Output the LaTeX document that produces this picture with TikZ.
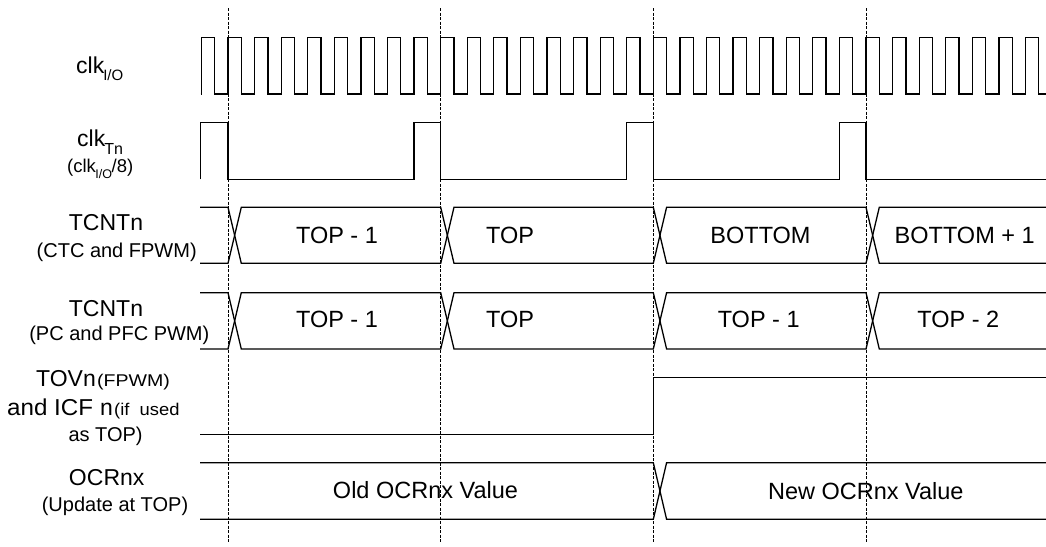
\documentclass[tikz,border=0pt]{standalone}
\usepackage{fontspec}
\setmainfont{Liberation Sans}
\newcommand\mainsz{\fontsize{23}{24}\selectfont}
\newcommand\parsz{\fontsize{20}{21}\selectfont}
\newcommand\bussz{\fontsize{23.5}{24}\selectfont}
\begin{document}
\begin{tikzpicture}[x=1pt,y=-1pt,
  sig/.style={line width=1.3pt,line join=miter},
  guide/.style={line width=1pt,dash pattern=on 3pt off 1.5pt},
  lbl/.style={inner sep=0pt,anchor=base},
  lblw/.style={inner sep=0pt,anchor=base west}]
\useasboundingbox (0,0) rectangle (1046,546);
\def\XA{228}\def\XB{440.7}\def\XC{653.3}\def\XD{866}
\def\P{26.583}\def\H{13.29}
% dashed guides
\foreach \x/\n in {\XA/ga,\XB/gb,\XC/gc,\XD/gd}{
  \coordinate (\n t) at (\x,8);
  \coordinate (\n b) at (\x,543);
  \draw[guide] (\n t) -- (\n b);
}
% clk I/O
\draw[sig] (200.5,94) foreach \i in {-1,...,30}{
  -- ({\XA+\i*\P},94) -- ({\XA+\i*\P},37.3) -- ({\XA+\i*\P+\H},37.3) -- ({\XA+\i*\P+\H},94)
} -- (1046,94);
% clk Tn
\draw[sig] (200.5,179.3) -- (200.5,122.3) -- (\XA,122.3) -- (\XA,179.3)
  -- ({\XB-\P},179.3) -- ({\XB-\P},122.3) -- (\XB,122.3) -- (\XB,179.3)
  -- ({\XC-\P},179.3) -- ({\XC-\P},122.3) -- (\XC,122.3) -- (\XC,179.3)
  -- ({\XD-\P},179.3) -- ({\XD-\P},122.3) -- (\XD,122.3) -- (\XD,179.3)
  -- (1046,179.3);
% bus rows
\foreach \T/\B in {207.3/263.3, 292.7/349}{
  \draw[sig] (200,\T) -- (\XA,\T) -- ({\XA+\H},\B) -- (\XB,\B) -- ({\XB+\H},\T) -- (\XC,\T)
    -- ({\XC+\H},\B) -- (\XD,\B) -- ({\XD+\H},\T) -- (1046,\T);
  \draw[sig] (200,\B) -- (\XA,\B) -- ({\XA+\H},\T) -- (\XB,\T) -- ({\XB+\H},\B) -- (\XC,\B)
    -- ({\XC+\H},\T) -- (\XD,\T) -- ({\XD+\H},\B) -- (1046,\B);
}
% TOVn
\draw[sig] (200,434.3) -- (\XC,434.3) -- (\XC,377.7) -- (1046,377.7);
% OCRnx
\draw[sig] (200,462.7) -- (\XC,462.7) -- ({\XC+\H},519.3) -- (1046,519.3);
\draw[sig] (200,519.3) -- (\XC,519.3) -- ({\XC+\H},462.7) -- (1046,462.7);

% labels
\node[lblw] (lclkio) at (76,73.3) {\mainsz clk\kern-1pt\raisebox{-7.5pt}{\fontsize{15}{15}\selectfont I/O}};
\node[lblw] (lclktn) at (77,146) {\mainsz clk\kern-1pt\raisebox{-8pt}{\fontsize{16}{16}\selectfont Tn}};
\node[lblw] (lclkdiv) at (67,172.7) {\fontsize{18.5}{19}\selectfont (clk\kern-0.5pt\raisebox{-5.6pt}{\fontsize{12.5}{13}\selectfont I/O}\kern-0.5pt/8)};
\node[lbl] (ltc1) at (106,230.7) {\mainsz TCNTn};
\node[lbl] (ltc1s) at (116.7,257) {\parsz (CTC and FPWM)};
\node[lbl] (ltc2) at (106,316) {\mainsz TCNTn};
\node[lbl] (ltc2s) at (119.3,340) {\parsz (PC and PFC PWM)};
\node[lblw] (ltov) at (36,386) {\mainsz TOVn};
\node[lblw] (ltovs) at (97,386) {\scalebox{1.15}[1]{\fontsize{17}{17}\selectfont (FPWM)}};
\node[lblw] (licf) at (7,415) {\scalebox{1.05}[1]{\mainsz and ICF}};
\node[lblw] (licfn) at (100,415) {\mainsz n};
\node[lblw] (licfs) at (114,415) {\scalebox{1.08}[1]{\fontsize{17}{17}\selectfont (if\ \ used}};
\node[lblw] (lastop) at (68.3,441.7) {\parsz as TOP)};
\node[lbl] (locr) at (106.7,485.7) {\mainsz OCRnx};
\node[lbl] (locrs) at (115,511) {\parsz (Update at TOP)};

% bus values
\node[lbl] (v11) at (337,243.3) {\bussz TOP - 1};
\node[lbl] (v12) at (510,243.3) {\bussz TOP};
\node[lbl] (v13) at (760.5,243.3) {\bussz BOTTOM};
\node[lbl] (v14) at (964.7,243.3) {\bussz BOTTOM + 1};
\node[lbl] (v21) at (337,327.3) {\bussz TOP - 1};
\node[lbl] (v22) at (510,327.3) {\bussz TOP};
\node[lbl] (v23) at (758.7,327.3) {\bussz TOP - 1};
\node[lbl] (v24) at (958.3,327.3) {\bussz TOP - 2};
\node[lbl] (vold) at (425.5,498.3) {\bussz Old OCRnx Value};
\node[lbl] (vnew) at (865.8,499) {\bussz New OCRnx Value};
\end{tikzpicture}
\end{document}
